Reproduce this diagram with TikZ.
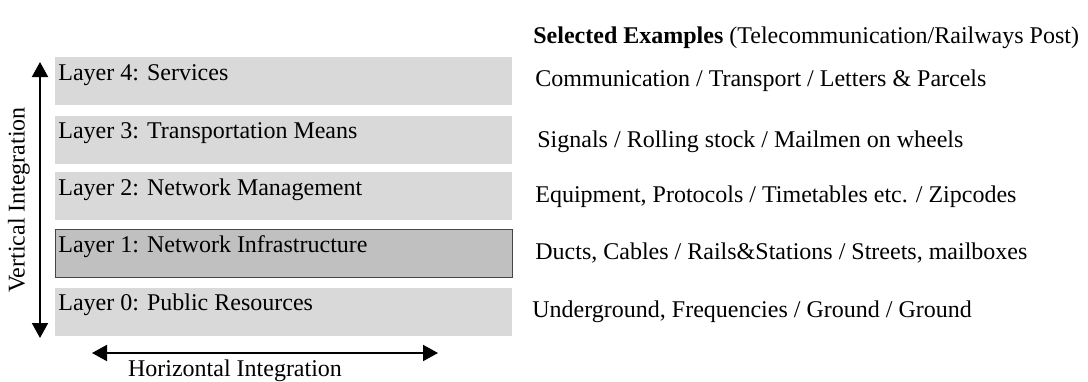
\documentclass[tikz,border=0pt]{standalone}
\usepackage{fontspec}
\setmainfont{Liberation Serif}
\usetikzlibrary{arrows.meta}
\definecolor{layerlight}{RGB}{217,217,217}
\definecolor{layerdark}{RGB}{192,192,192}
\definecolor{layeredge}{RGB}{70,70,70}
\begin{document}
\begin{tikzpicture}[x=0.5pt,y=-0.5pt,
  every node/.style={font=\fontsize{12pt}{14pt}\selectfont, inner sep=0pt},
  layerbox/.style={rectangle, fill=layerlight, minimum width=228.5pt, minimum height=24pt, anchor=north west},
  hilitebox/.style={layerbox, fill=layerdark, draw=layeredge, line width=0.6pt},
  layertext/.style={anchor=west},
  example/.style={anchor=west},
  integ/.style={line width=1pt, {Triangle[width=8pt,length=7.5pt]}-{Triangle[width=8pt,length=7.5pt]}}
]
\useasboundingbox (0,0) rectangle (1088,381);

% stacked layers
\node[layerbox]  (b4) at (55,57)  {};
\node[layerbox]  (b3) at (55,116) {};
\node[layerbox]  (b2) at (55,172) {};
\node[hilitebox] (b1) at (55,229) {};
\node[layerbox]  (b0) at (55,288) {};

\node[layertext] (t4) at (58,75)  {Layer 4: Services};
\node[layertext] (t3) at (58,133) {Layer 3: Transportation Means};
\node[layertext] (t2) at (58,190) {Layer 2: Network Management};
\node[layertext] (t1) at (58,247) {Layer 1: Network Infrastructure};
\node[layertext] (t0) at (58,305) {Layer 0: Public Resources};

% examples column
\node[example] (hd) at (533,38) {\textbf{Selected Examples} (Telecommunication/Railways Post)};
\node[example] (e4) at (535,81)  {Communication / Transport / Letters \& Parcels};
\node[example] (e3) at (537,142) {Signals / Rolling stock / Mailmen on wheels};
\node[example] (e2) at (535,197) {Equipment, Protocols / Timetables etc. / Zipcodes};
\node[example] (e1) at (535,253) {Ducts, Cables / Rails\&Stations / Streets, mailboxes};
\node[example] (e0) at (532,312) {Underground, Frequencies / Ground / Ground};

% integration axes
\coordinate (vtop) at (40,62);
\coordinate (vbot) at (40,338);
\draw[integ] (vtop) -- (vbot);
\node[rotate=90] (vl) at (19,200) {Vertical Integration};

\coordinate (hl) at (92,353);
\coordinate (hr) at (438,353);
\draw[integ] (hl) -- (hr);
\node (hlab) at (235,371) {Horizontal Integration};
\end{tikzpicture}
\end{document}
